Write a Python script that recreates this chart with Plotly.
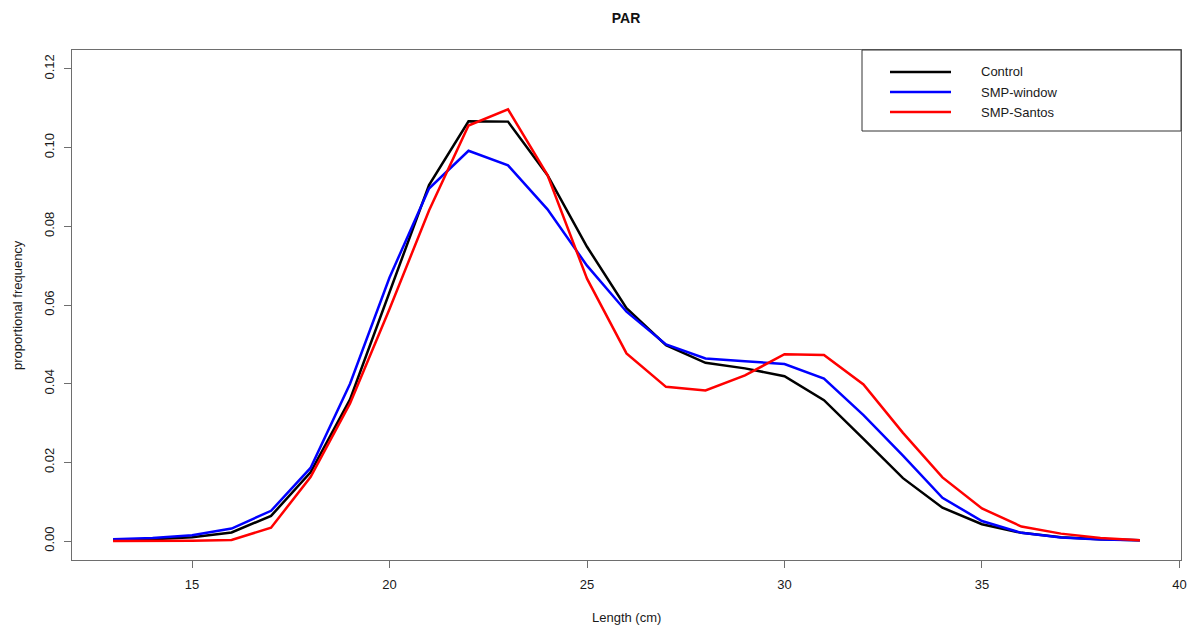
import plotly.graph_objects as go

# Length classes (cm)
length_cm = list(range(13, 40))

# Proportional length-frequency per scenario
control = [0.0003, 0.0005, 0.0010, 0.0022, 0.0064, 0.0175, 0.0360, 0.0630, 0.0905, 0.1067,
           0.1066, 0.0930, 0.0748, 0.0592, 0.0498, 0.0453, 0.0439, 0.0419, 0.0358, 0.0260,
           0.0160, 0.0085, 0.0043, 0.0021, 0.0010, 0.0005, 0.0002]
smp_window = [0.0005, 0.0008, 0.0015, 0.0032, 0.0077, 0.0186, 0.0400, 0.0670, 0.0896, 0.0992,
              0.0955, 0.0843, 0.0700, 0.0583, 0.0500, 0.0464, 0.0457, 0.0450, 0.0413, 0.0320,
              0.0217, 0.0110, 0.0051, 0.0021, 0.0009, 0.0004, 0.0002]
smp_santos = [0.0000, 0.0000, 0.0001, 0.0003, 0.0034, 0.0163, 0.0350, 0.0590, 0.0840, 0.1056,
              0.1097, 0.0930, 0.0667, 0.0477, 0.0392, 0.0383, 0.0421, 0.0475, 0.0473, 0.0398,
              0.0275, 0.0162, 0.0083, 0.0037, 0.0019, 0.0008, 0.0002]

series_names = ["Control", "SMP-window", "SMP-Santos"]
series_colors = ["#000000", "#0000FF", "#FF0000"]
series_values = [control, smp_window, smp_santos]

x_ticks = [15, 20, 25, 30, 35, 40]
y_ticks = [0.00, 0.02, 0.04, 0.06, 0.08, 0.10, 0.12]

W, H = 1192, 626
ML, MR, MT, MB = 72, 11, 50, 66
PW, PH = W - ML - MR, H - MT - MB

def px_x(px):
    return (px - ML) / PW

def px_y(py):
    return (H - MB - py) / PH

FONT = "Liberation Sans, Arial, sans-serif"
TXT = "#1a1a1a"
FRAME = "#6e6e6e"

fig = go.Figure()
for name, color, vals in zip(series_names, series_colors, series_values):
    fig.add_trace(go.Scatter(x=length_cm, y=vals, mode="lines", name=name,
                             line=dict(color=color, width=2.5), showlegend=False))

axis_common = dict(showline=True, mirror=True, linecolor=FRAME, linewidth=1,
                   ticks="outside", ticklen=7, tickcolor=FRAME, showgrid=False,
                   zeroline=False, automargin=False,
                   tickfont=dict(family=FONT, size=13, color=TXT))

fig.update_xaxes(range=[11.96, 40.04], tickvals=x_ticks, ticklabelstandoff=5,
                 **axis_common)
fig.update_yaxes(range=[-0.0048, 0.1248], tickvals=y_ticks, tickformat=".2f",
                 tickangle=-90, ticklabelstandoff=5, **axis_common)

# Axis titles
annotations = [
    dict(xref="paper", yref="paper", x=px_x(626), y=px_y(617), text="Length (cm)",
         showarrow=False, xanchor="center", yanchor="middle",
         font=dict(family=FONT, size=13, color=TXT)),
    dict(xref="paper", yref="paper", x=px_x(17), y=px_y(305), text="proportional frequency",
         showarrow=False, xanchor="center", yanchor="middle", textangle=-90,
         font=dict(family=FONT, size=13, color=TXT)),
]

# Legend drawn as a framed box in the top-right corner of the plot
shapes = [dict(type="rect", xref="paper", yref="paper",
               x0=px_x(862), x1=1, y0=px_y(131), y1=1,
               line=dict(color="#333333", width=1), fillcolor="white", layer="above")]
for i, (name, color) in enumerate(zip(series_names, series_colors)):
    yy = px_y(72 + i * 20)
    shapes.append(dict(type="line", xref="paper", yref="paper",
                       x0=px_x(890), x1=px_x(951), y0=yy, y1=yy,
                       line=dict(color=color, width=2.5), layer="above"))
    annotations.append(dict(xref="paper", yref="paper", x=px_x(979), y=yy,
                            text=name, showarrow=False, xanchor="left", yanchor="middle",
                            font=dict(family=FONT, size=13, color=TXT)))

fig.update_layout(
    width=W, height=H,
    margin=dict(l=ML, r=MR, t=MT, b=MB),
    paper_bgcolor="white", plot_bgcolor="white",
    title=dict(text="<b>PAR</b>", x=626 / W, xanchor="center",
               y=1 - 18 / H, yanchor="middle",
               font=dict(family=FONT, size=14, color="#111111")),
    shapes=shapes, annotations=annotations,
    showlegend=False,
)

fig.write_html("out.html")
